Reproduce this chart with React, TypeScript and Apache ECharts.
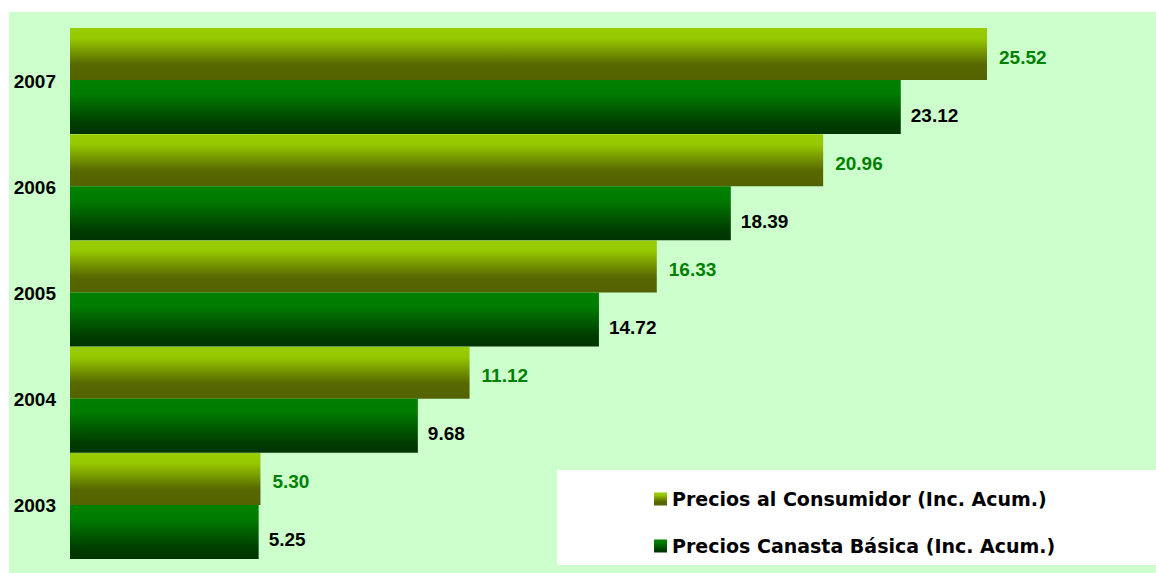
import React, { useEffect, useRef } from "react";
import * as echarts from "echarts";

const categories = ["2003", "2004", "2005", "2006", "2007"];
const consumidor = [5.3, 11.12, 16.33, 20.96, 25.52];
const canasta = [5.25, 9.68, 14.72, 18.39, 23.12];
const seriesNames = [
  "Precios al Consumidor (Inc. Acum.)",
  "Precios Canasta Básica (Inc. Acum.)",
];

const FONT = "'Liberation Sans', Arial, sans-serif";

export default function App() {
  const ref = useRef<HTMLDivElement>(null);
  useEffect(() => {
    document.body.style.margin = "0";
    const chart = echarts.init(ref.current!, null, { renderer: "svg" });
    const grad1 = new echarts.graphic.LinearGradient(0, 0, 0, 1, [
      { offset: 0, color: "#9ACD00" },
      { offset: 0.2, color: "#96C800" },
      { offset: 0.7, color: "#586800" },
      { offset: 1, color: "#536200" },
    ]);
    const grad2 = new echarts.graphic.LinearGradient(0, 0, 0, 1, [
      { offset: 0, color: "#008000" },
      { offset: 0.25, color: "#007C00" },
      { offset: 0.8, color: "#003D00" },
      { offset: 1, color: "#003300" },
    ]);
    chart.setOption({
      animation: false,
      backgroundColor: "#ffffff",
      graphic: [
        {
          type: "rect",
          z: -10,
          shape: { x: 9, y: 12, width: 1147, height: 561 },
          style: { fill: "#CCFFCC" },
          silent: true,
        },
        {
          type: "rect",
          z: -5,
          shape: { x: 557, y: 470, width: 599, height: 95 },
          style: { fill: "#ffffff" },
          silent: true,
        },
      ],
      grid: { left: 70, right: 8, top: 28, bottom: 14, containLabel: false },
      legend: {
        orient: "vertical",
        left: 649,
        top: 484,
        itemWidth: 13,
        itemHeight: 13,
        itemGap: 27,
        icon: "rect",
        data: seriesNames,
        textStyle: {
          fontFamily: "'DejaVu Sans', sans-serif",
          fontWeight: "bold",
          fontSize: 19,
          lineHeight: 20,
          color: "#000000",
          padding: [0, 0, 0, 0],
        },
      },
      xAxis: { type: "value", min: 0, max: 30, show: false },
      yAxis: {
        type: "category",
        data: categories,
        axisLine: { show: false },
        axisTick: { show: false },
        splitLine: { show: false },
        axisLabel: {
          margin: 14,
          fontFamily: FONT,
          fontWeight: "bold",
          fontSize: 19,
          color: "#000000",
        },
      },
      series: [
        {
          name: seriesNames[0],
          type: "bar",
          data: consumidor,
          barWidth: 52,
          barGap: "0%",
          barCategoryGap: "0%",
          itemStyle: { color: grad1 },
          label: {
            show: true,
            position: "right",
            distance: 12,
            offset: [0, 3],
            formatter: (p: any) => Number(p.value).toFixed(2),
            fontFamily: FONT,
            fontWeight: "bold",
            fontSize: 19,
            color: "#008000",
          },
        },
        {
          name: seriesNames[1],
          type: "bar",
          data: canasta,
          barWidth: 54,
          barGap: "0%",
          barCategoryGap: "0%",
          itemStyle: { color: grad2 },
          label: {
            show: true,
            position: "right",
            distance: 10,
            offset: [0, 8],
            formatter: (p: any) => Number(p.value).toFixed(2),
            fontFamily: FONT,
            fontWeight: "bold",
            fontSize: 19,
            color: "#000000",
          },
        },
      ],
    });
    return () => chart.dispose();
  }, []);
  return (
    <div
      ref={ref}
      style={{ position: "absolute", left: 0, top: 0, width: 1156, height: 573 }}
    />
  );
}
